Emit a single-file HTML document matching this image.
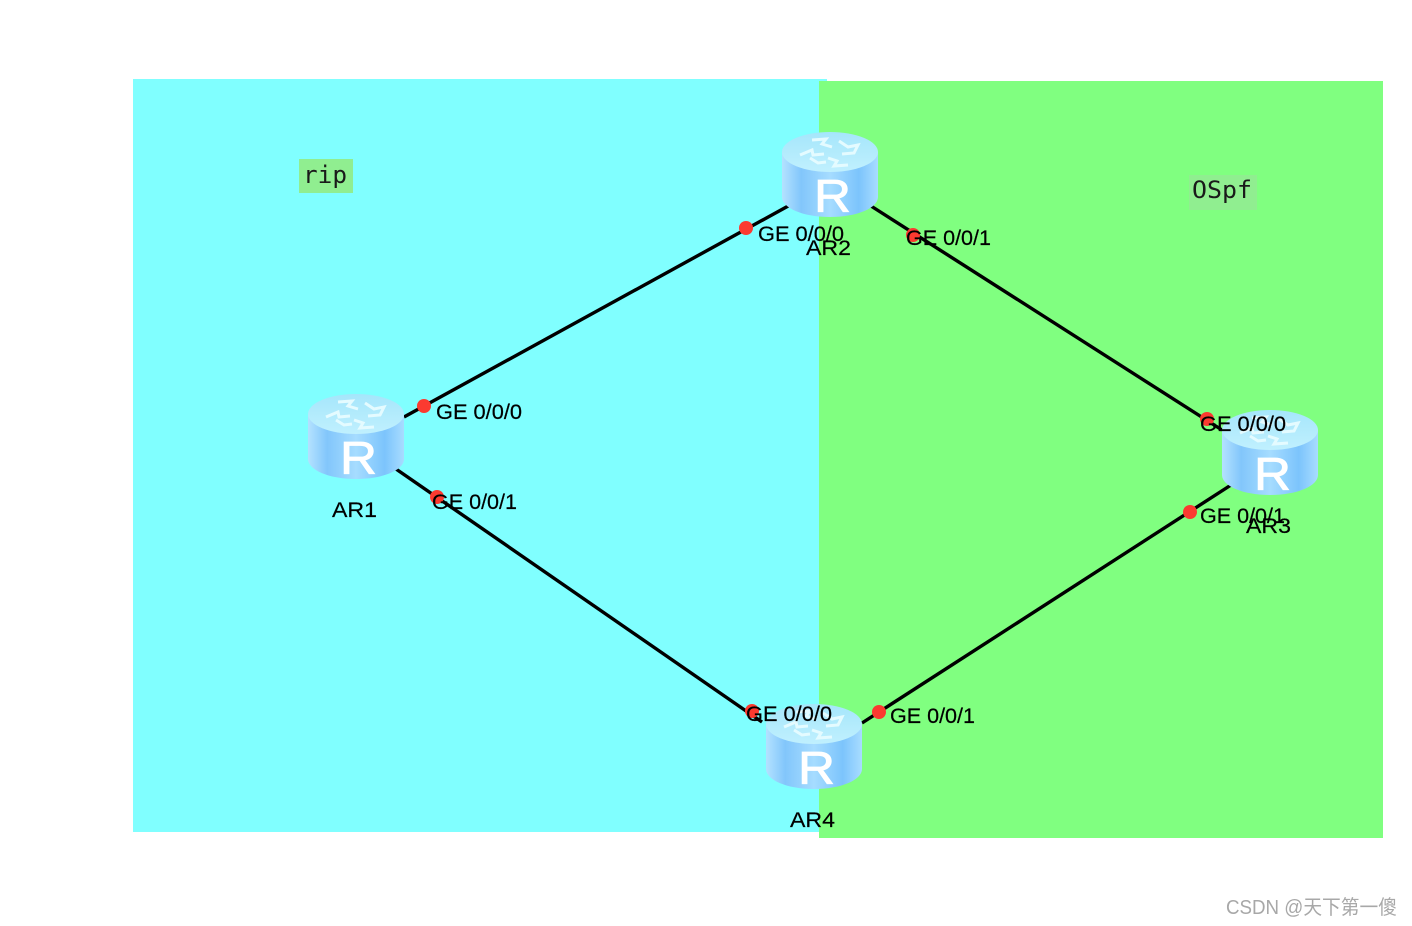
<!DOCTYPE html>
<html>
<head>
<meta charset="utf-8">
<style>
html,body{margin:0;padding:0;background:#fff;width:1412px;height:926px;overflow:hidden}
svg{display:block}
.l{font-family:"Liberation Sans",sans-serif;font-size:21px;fill:#000;stroke:#000;stroke-width:.2}
.m{font-family:"DejaVu Sans Mono","Liberation Mono",monospace;font-size:24px;fill:#1a1a1a}
.r{font-family:"Liberation Sans",sans-serif;font-size:46px;fill:#fff;stroke:#fff;stroke-width:.8}
.w{font-family:"Liberation Sans","Noto Sans CJK SC",sans-serif;font-size:20px;fill:#a8a8a8}
</style>
</head>
<body>
<svg width="1412" height="926" viewBox="0 0 1412 926" xmlns="http://www.w3.org/2000/svg">
<defs>
<linearGradient id="b" x1="0" x2="1" y1="0" y2="0">
<stop offset="0" stop-color="#b4e2ff"/>
<stop offset=".2" stop-color="#82c6fb"/>
<stop offset=".5" stop-color="#a6dcff"/>
<stop offset=".8" stop-color="#7cc4fc"/>
<stop offset="1" stop-color="#a8dcff"/>
</linearGradient>
<linearGradient id="t" x1="0" x2="0" y1="0" y2="1">
<stop offset="0" stop-color="#a5e6fb"/>
<stop offset="1" stop-color="#c0f0fe"/>
</linearGradient>
<g id="router">
<path d="M0 20 V65 C0 76 21 85 48 85 C75 85 96 76 96 65 V20 Z" fill="url(#b)"/>
<ellipse cx="48" cy="20" rx="48" ry="20" fill="url(#t)"/>
<g fill="none" stroke="#e4fbff" stroke-width="3">
<path d="M30 8 L44 7 L40 12 L50 15"/>
<path d="M57 9 L66 15 L76 13 L72 21 L60 22"/>
<path d="M18 23 L30 18 L31 23 L42 22"/>
<path d="M66 33 L52 34 L55 29 L46 26"/>
<path d="M28 26 L36 31 L44 30"/>
</g>
<text class="r" x="32" y="80" textLength="37" lengthAdjust="spacingAndGlyphs">R</text>
</g>
</defs>

<rect x="133" y="79" width="694" height="753" fill="#80ffff"/>
<rect x="819" y="81" width="564" height="757" fill="#80ff80"/>

<rect x="299" y="159" width="54" height="34" fill="#90ee90"/>
<text class="m" x="303" y="183" textLength="44" lengthAdjust="spacingAndGlyphs">rip</text>
<rect x="1189" y="175" width="68" height="35" fill="#90ee90"/>
<text class="m" x="1192" y="198" textLength="60" lengthAdjust="spacingAndGlyphs">OSpf</text>

<g stroke="#000" stroke-width="3.4" fill="none">
<line x1="404" y1="417" x2="790" y2="205"/>
<line x1="396" y1="469" x2="762" y2="722"/>
<line x1="871" y1="206" x2="1222" y2="430"/>
<line x1="1231" y1="485" x2="862" y2="723"/>
</g>

<use href="#router" x="308" y="394"/>
<use href="#router" x="782" y="132"/>
<use href="#router" x="1222" y="410"/>
<use href="#router" x="766" y="704"/>

<g fill="#fb3a30">
<circle cx="424" cy="406" r="7"/>
<circle cx="746" cy="228" r="7"/>
<circle cx="913" cy="235" r="7"/>
<circle cx="1207" cy="419" r="7"/>
<circle cx="1190" cy="512" r="7"/>
<circle cx="879" cy="712" r="7"/>
<circle cx="752" cy="711" r="7"/>
<circle cx="437" cy="497" r="7"/>
</g>

<text class="l" x="436" y="419" textLength="86" lengthAdjust="spacingAndGlyphs">GE 0/0/0</text>
<text class="l" x="758" y="241" textLength="86" lengthAdjust="spacingAndGlyphs">GE 0/0/0</text>
<text class="l" x="906" y="245" textLength="85" lengthAdjust="spacingAndGlyphs">GE 0/0/1</text>
<text class="l" x="1200" y="431" textLength="86" lengthAdjust="spacingAndGlyphs">GE 0/0/0</text>
<text class="l" x="1200" y="523" textLength="85" lengthAdjust="spacingAndGlyphs">GE 0/0/1</text>
<text class="l" x="890" y="723" textLength="85" lengthAdjust="spacingAndGlyphs">GE 0/0/1</text>
<text class="l" x="746" y="721" textLength="86" lengthAdjust="spacingAndGlyphs">GE 0/0/0</text>
<text class="l" x="432" y="509" textLength="85" lengthAdjust="spacingAndGlyphs">GE 0/0/1</text>
<text class="l" x="332" y="517" textLength="45" lengthAdjust="spacingAndGlyphs">AR1</text>
<text class="l" x="806" y="255" textLength="45" lengthAdjust="spacingAndGlyphs">AR2</text>
<text class="l" x="1246" y="533" textLength="45" lengthAdjust="spacingAndGlyphs">AR3</text>
<text class="l" x="790" y="827" textLength="45" lengthAdjust="spacingAndGlyphs">AR4</text>

<text class="w" x="1226" y="914" textLength="171" lengthAdjust="spacingAndGlyphs">CSDN @天下第一傻</text>
</svg>
</body>
</html>
